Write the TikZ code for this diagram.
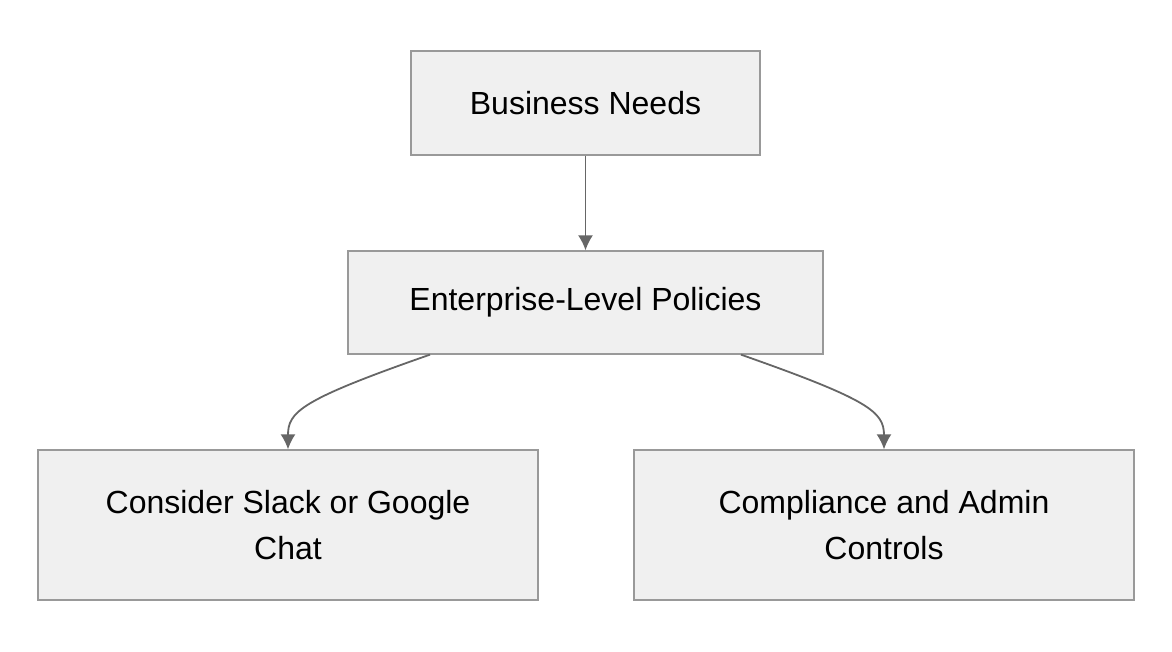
\documentclass[tikz,border=0pt]{standalone}
\usepackage{fontspec}
\setmainfont{Liberation Sans}
\tikzset{
    box/.style={draw=black!40, fill=black!6, line width=1.3pt, align=center,
        font=\fontsize{32}{46}\selectfont, inner sep=0pt},
    link/.style={draw=black!60, line width=1.8pt, -{Latex[length=15pt,width=15pt]}},
}
\usetikzlibrary{arrows.meta}
\begin{document}
\begin{tikzpicture}[x=1pt,y=-1pt]
    \useasboundingbox (0,0) rectangle (1172,652);
    \node[box, minimum width=349pt, minimum height=104pt] (biz) at (585.5,103) {Business Needs};
    \node[box, minimum width=475pt, minimum height=103pt] (policy) at (585.5,302.5) {Enterprise-Level Policies};
    \node[box, minimum width=500pt, minimum height=150pt] (slack) at (288,525) {Consider Slack or Google\\Chat};
    \node[box, minimum width=500pt, minimum height=150pt] (comply) at (884,525) {Compliance and Admin\\Controls};
    %
    \draw[link] (biz.south) -- (policy.north);
    \draw[link] (policy.south) ++(-155.5,0) .. controls (300,400) and (288,412) .. (slack.north);
    \draw[link] (policy.south) ++(155.5,0) .. controls (870,400) and (884,412) .. (comply.north);
\end{tikzpicture}
\end{document}
